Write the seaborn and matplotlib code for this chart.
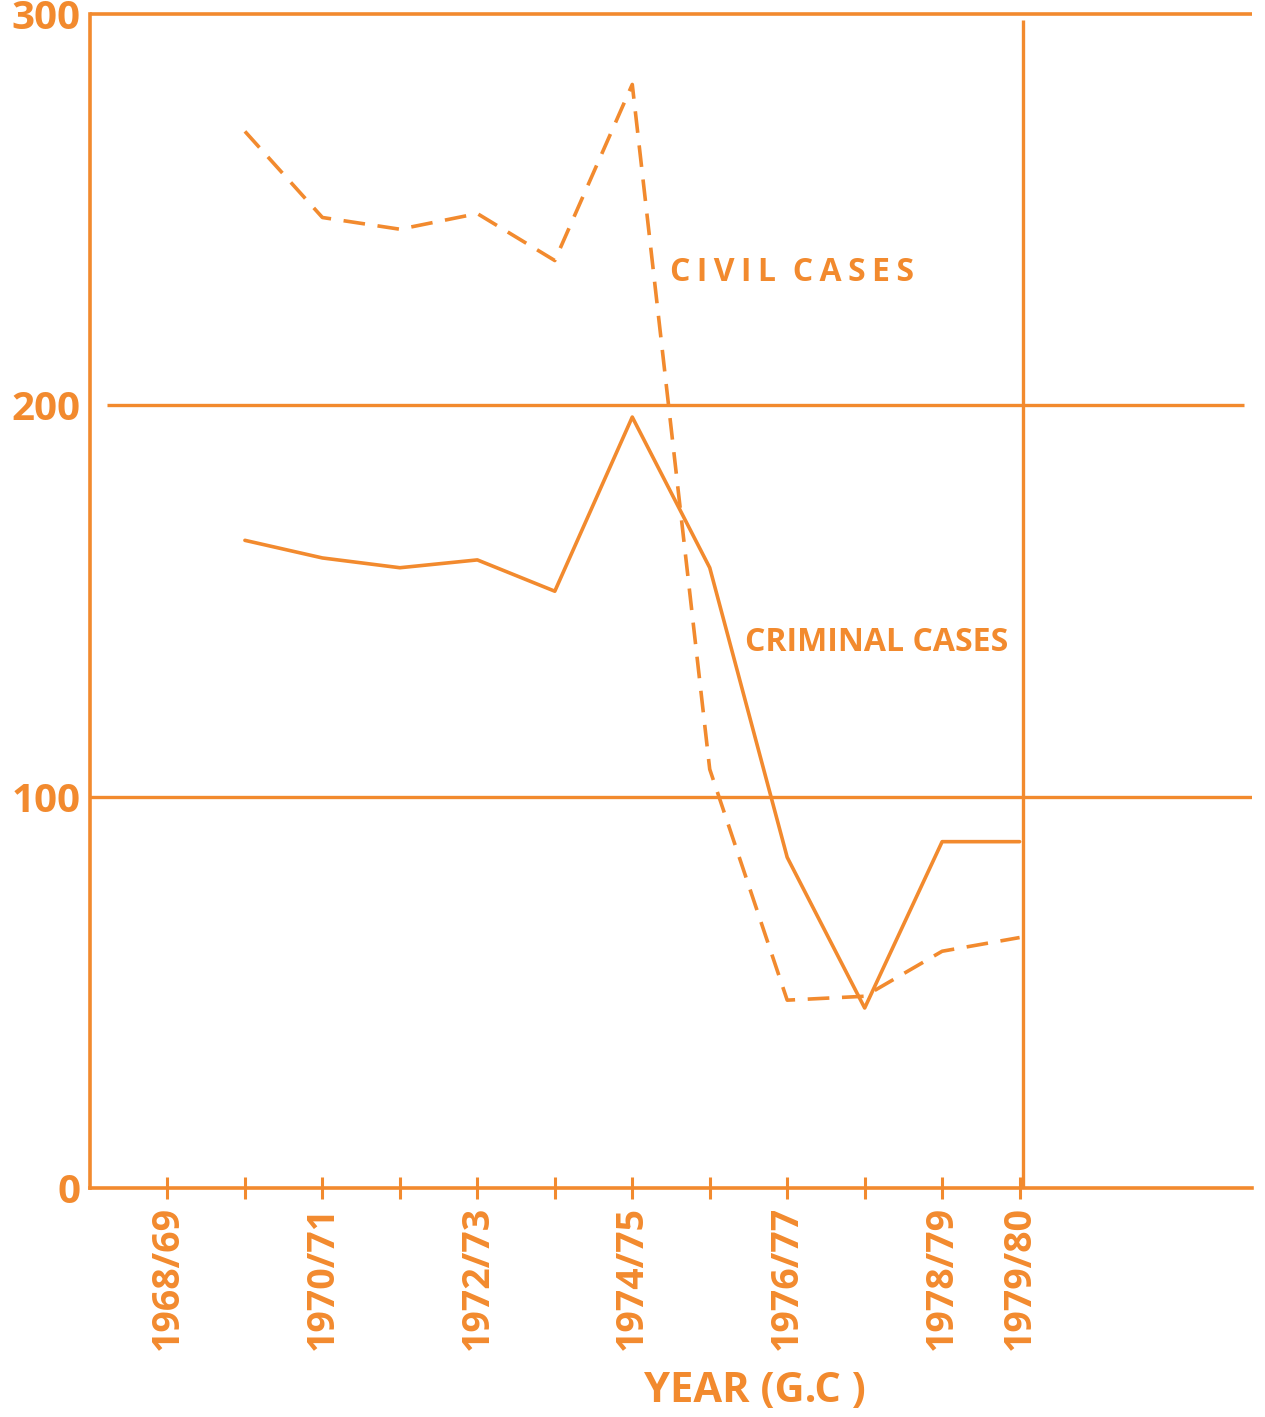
import numpy as np
import pandas as pd
import matplotlib
matplotlib.use("Agg")
import matplotlib.pyplot as plt
import seaborn as sns

# data
years = ["1968/69", "1969/70", "1970/71", "1971/72", "1972/73", "1973/74",
         "1974/75", "1975/76", "1976/77", "1977/78", "1978/79", "1979/80"]
shown_labels = ["1968/69", "1970/71", "1972/73", "1974/75", "1976/77", "1978/79", "1979/80"]
civil = [np.nan, 270, 248, 245, 249, 237, 282, 107, 48, 49, 60.5, 64]
criminal = [np.nan, 165.5, 161, 158.5, 160.5, 152.5, 197, 158.5, 84.5, 46, 88.5, 88.5]
y_ticks = [0, 100, 200, 300]

ORANGE = "#F28A2E"

sns.set_theme(style="white")
plt.rcParams["font.family"] = ["Open Sans", "DejaVu Sans"]

df = pd.DataFrame({"pos": np.arange(len(years)), "civil": civil, "criminal": criminal})

fig = plt.figure(figsize=(12.65, 14.17), dpi=100)
ax = fig.add_axes([90 / 1265, 229 / 1417, (1252 - 90) / 1265, (1188 - 14) / 1417])

sns.lineplot(data=df, x="pos", y="civil", ax=ax, color=ORANGE, lw=2.6)
sns.lineplot(data=df, x="pos", y="criminal", ax=ax, color=ORANGE, lw=2.6)
ax.lines[0].set_linestyle((0, (6, 3.5)))

# guide lines drawn on the sheet
ax.hlines(300, -1, 14, color=ORANGE, lw=2.6, clip_on=False)
ax.hlines(200, -0.78, 13.9, color=ORANGE, lw=2.4)
ax.hlines(100, -1, 14, color=ORANGE, lw=2.4)
ax.vlines(11.04, 0, 298.5, color=ORANGE, lw=2.4)

ax.set_xlim(-1, 14)
ax.set_ylim(0, 300)

for side in ["top", "right"]:
    ax.spines[side].set_visible(False)
for side in ["left", "bottom"]:
    ax.spines[side].set_color(ORANGE)
    ax.spines[side].set_linewidth(2.6)

ax.set_xticks(df["pos"])
ax.set_xticklabels([y if y in shown_labels else "" for y in years],
                   rotation=90, fontsize=27, fontweight="bold", color=ORANGE)
ax.tick_params(axis="x", bottom=True, direction="inout", length=16, width=2.2,
               color=ORANGE, pad=5)
ax.set_yticks(y_ticks)
ax.set_yticklabels([str(v) for v in y_ticks], fontsize=29, fontweight="bold", color=ORANGE)
ax.tick_params(axis="y", left=False, length=0, pad=7)
ax.set_xlabel("")
ax.set_ylabel("")

fig.text(755 / 1265, 1 - 1392 / 1417, "YEAR (G.C )", fontsize=30, fontweight="bold",
         color=ORANGE, ha="center", va="center")

ax.text(6.49, 234, "C\u2009I\u2009V\u2009I\u2009L  C\u2009A\u2009S\u2009E\u2009S", fontsize=23,
        fontweight="bold", color=ORANGE, va="center", ha="left")
ax.text(7.46, 139.5, "CRIMINAL CASES", fontsize=23, fontweight="bold",
        color=ORANGE, va="center", ha="left")

fig.savefig("out.png", dpi=100, facecolor="white")
